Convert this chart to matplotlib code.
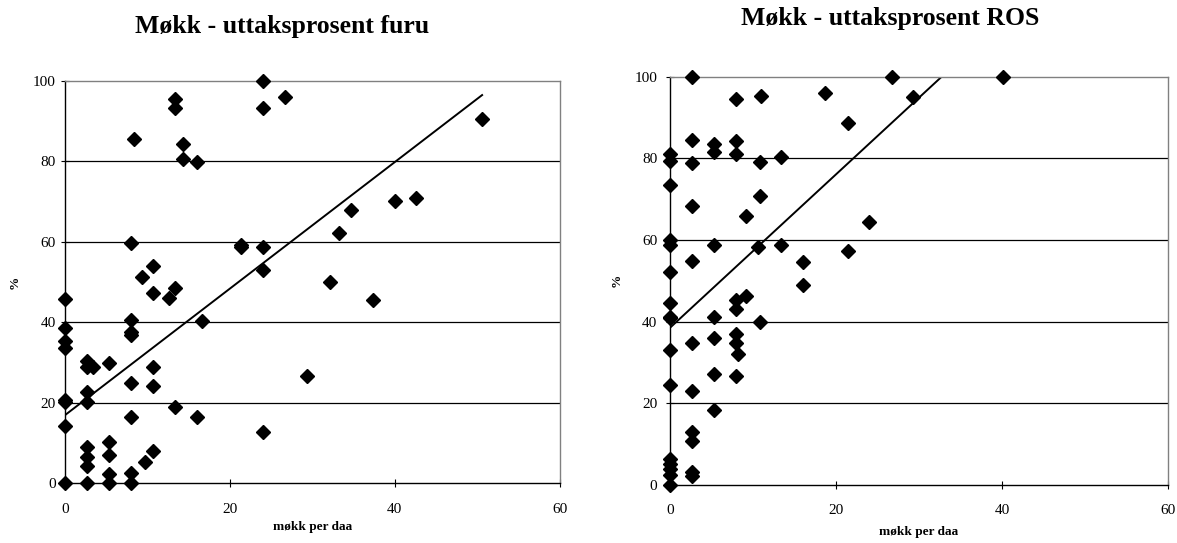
import numpy as np
import matplotlib
matplotlib.use("Agg")
import matplotlib.pyplot as plt

plt.rcParams['font.family'] = ['Liberation Serif', 'DejaVu Serif']

# Møkk - uttaksprosent furu
furu_x = [0, 0, 0, 0, 0, 0, 0, 0,
          2.67, 2.67, 2.67, 2.67, 2.67, 2.67, 2.67, 2.67, 3.4,
          5.3, 5.3, 5.3, 5.3, 5.3,
          8.0, 8.0, 8.0, 8.0, 8.0, 8.0, 8.0, 8.0, 8.3,
          9.25, 9.7, 10.7, 10.7, 10.7, 10.7, 10.7, 12.6,
          13.3, 13.3, 13.3, 13.3, 14.3, 14.3, 16.0, 16.0, 16.6,
          21.3, 21.3, 24.0, 24.0, 24.0, 24.0, 24.0, 26.7, 29.3,
          32.1, 33.2, 34.7, 37.3, 40.0, 42.6, 50.6]
furu_y = [0, 14.2, 20.1, 20.7, 33.5, 35.3, 38.5, 45.7,
          0, 4.2, 6.6, 9.0, 20.1, 22.6, 29.0, 30.3, 29.0,
          0, 2.2, 7.0, 10.3, 29.8,
          0, 2.5, 16.4, 24.8, 36.8, 37.6, 40.6, 59.8, 85.5,
          51.3, 5.4, 8.0, 24.2, 29.0, 47.4, 54.1, 46.0,
          19.0, 48.6, 93.3, 95.4, 80.6, 84.2, 16.4, 79.9, 40.3,
          58.8, 59.3, 12.8, 53.0, 58.8, 93.3, 100, 96.0, 26.7,
          50.1, 62.1, 67.9, 45.5, 70.1, 70.9, 90.6]
# trendline (intercept, slope)
furu_trend = (17.0, 1.57)

# Møkk - uttaksprosent ROS
ros_x = [0, 0, 0, 0, 0, 0, 0, 0, 0, 0, 0, 0, 0, 0, 0, 0,
         2.7, 2.7, 2.7, 2.7, 2.7, 2.7, 2.7, 2.7, 2.7, 2.7, 2.7,
         5.3, 5.3, 5.3, 5.3, 5.3, 5.3, 5.3,
         8.0, 8.0, 8.0, 8.0, 8.0, 8.0, 8.0, 8.0, 8.2,
         9.2, 9.2, 10.8, 10.6, 10.8, 10.8, 11.0,
         13.4, 13.4, 16.0, 16.0, 18.7, 21.4, 21.4, 24.0,
         26.7, 29.3, 40.1]
ros_y = [0, 2.4, 3.8, 5.1, 6.4, 24.4, 33.1, 40.8, 41.2, 44.7, 52.1, 58.9, 60.0, 73.6, 79.4, 81.0,
         2.2, 3.3, 10.9, 13.1, 23.0, 34.9, 54.9, 68.3, 78.8, 84.6, 100,
         18.3, 27.3, 36.1, 41.2, 58.8, 81.6, 83.6,
         26.8, 34.7, 37.0, 43.0, 45.3, 81.0, 84.3, 94.6, 32.1,
         46.3, 65.9, 40.0, 58.2, 70.9, 79.1, 95.2,
         58.8, 80.4, 49.0, 54.5, 95.9, 57.4, 88.6, 64.3,
         100, 95.0, 100]
ros_trend = (38.5, 1.88)

x_ticks = [0, 20, 40, 60]
y_ticks = [0, 20, 40, 60, 80, 100]

fig = plt.figure(figsize=(11.77, 5.43), dpi=100)
ax1 = fig.add_axes([0.0555, 0.1099, 0.4199, 0.7414])
ax2 = fig.add_axes([0.5692, 0.1068, 0.4234, 0.7519])


def draw(ax, x, y, trend, ylab_x, xlab_y, ypad):
    x = np.array(x)
    y = np.array(y)
    for v in y_ticks[1:-1]:
        ax.axhline(v, color='black', lw=0.9, zorder=1)
    ax.plot(x, y, 'D', color='black', ms=7.2, zorder=3, clip_on=False)
    # linear trendline
    m, k = trend
    xs = np.array([0, x.max()])
    ax.plot(xs, m + k * xs, color='black', lw=1.4, zorder=2)
    ax.set_xlim(0, 60)
    ax.set_ylim(0, 100)
    ax.set_xticks(x_ticks)
    ax.set_yticks(y_ticks)
    ax.spines['left'].set_color('black')
    ax.spines['bottom'].set_color('black')
    ax.spines['top'].set_color('#808080')
    ax.spines['right'].set_color('#808080')
    for s in ax.spines.values():
        s.set_linewidth(1.0)
    ax.tick_params(axis='x', direction='inout', length=6, width=0.8, pad=11, labelsize=11)
    ax.tick_params(axis='y', direction='inout', length=6, width=0.8, pad=ypad, labelsize=11)
    ax.set_xlabel('møkk per daa', fontweight='bold', fontsize=9.5, va='center')
    ax.xaxis.set_label_coords(0.5, xlab_y)
    ax.set_ylabel('%', fontweight='bold', fontsize=9.5, va='center')
    ax.yaxis.set_label_coords(ylab_x, 0.5)


draw(ax1, furu_x, furu_y, furu_trend, -0.102, -0.1085, 4)
draw(ax2, ros_x, ros_y, ros_trend, -0.108, -0.115, 6)

fig.text(281.6 / 1177, 1 - 26 / 543, 'Møkk - uttaksprosent furu',
         ha='center', va='center', fontsize=18.5, fontweight='bold')
fig.text(889.7 / 1177, 1 - 19 / 543, 'Møkk - uttaksprosent ROS',
         ha='center', va='center', fontsize=18.5, fontweight='bold')

fig.savefig('out.png', dpi=100)
